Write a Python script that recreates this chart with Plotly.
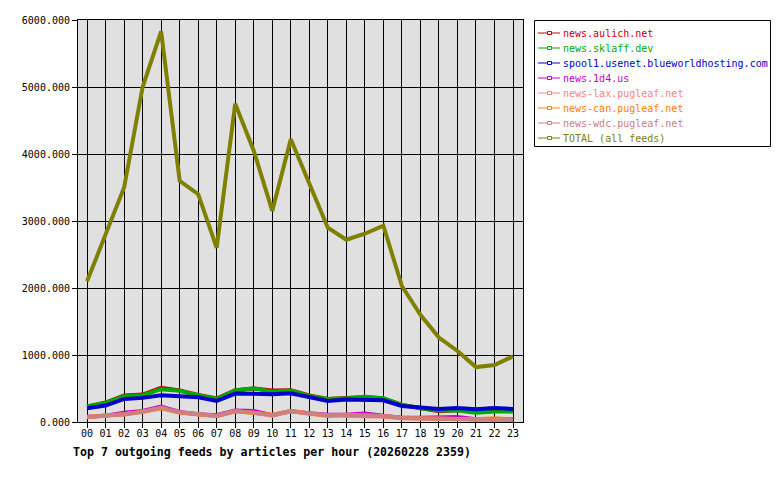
import plotly.graph_objects as go

hours = ["%02d" % h for h in range(24)]

feed_names = [
    "news.aulich.net",
    "news.sklaff.dev",
    "spool1.usenet.blueworldhosting.com",
    "news.1d4.us",
    "news-lax.pugleaf.net",
    "news-can.pugleaf.net",
    "news-wdc.pugleaf.net",
    "TOTAL (all feeds)",
]

aulich = [230, 290, 395, 410, 510, 470, 405, 350, 475, 500, 470, 475, 395, 345, 360, 370, 350, 255, 210, 160, 175, 180, 200, 170]
sklaff = [235, 285, 385, 400, 490, 465, 400, 345, 470, 505, 450, 470, 390, 345, 355, 375, 355, 255, 205, 170, 170, 140, 155, 155]
spool1 = [205, 245, 345, 360, 400, 385, 370, 315, 425, 420, 415, 430, 365, 315, 335, 335, 325, 240, 220, 195, 210, 190, 210, 195]
d4 = [80, 95, 140, 165, 230, 150, 115, 100, 170, 165, 100, 165, 130, 110, 110, 125, 95, 65, 65, 75, 75, 40, 35, 40]
lax = [75, 90, 115, 150, 210, 140, 110, 85, 160, 140, 95, 160, 125, 100, 95, 90, 80, 55, 50, 55, 45, 35, 30, 30]
can = [70, 100, 110, 150, 205, 140, 115, 90, 160, 135, 110, 165, 120, 90, 110, 100, 90, 60, 55, 50, 45, 40, 55, 40]
wdc = [75, 90, 115, 155, 215, 145, 110, 90, 165, 140, 100, 160, 125, 100, 100, 95, 90, 60, 55, 50, 45, 35, 35, 30]
total = [2100, 2800, 3500, 5000, 5830, 3600, 3400, 2600, 4750, 4050, 3150, 4220, 3550, 2900, 2720, 2810, 2930, 2030, 1600, 1260, 1060, 820, 850, 980]

series = [aulich, sklaff, spool1, d4, lax, can, wdc, total]
colors = ["#cc0000", "#00aa00", "#0000cc", "#cc00cc", "#ff8080", "#ff8000", "#cc8080", "#808000"]

y_ticks = [0, 1000, 2000, 3000, 4000, 5000, 6000]
title_text = "Top 7 outgoing feeds by articles per hour (20260228 2359)"

MONO = "DejaVu Sans Mono"

fig = go.Figure()
for name, vals, col in zip(feed_names, series, colors):
    fig.add_trace(go.Scatter(x=hours, y=vals, mode="lines", name=name,
                             line=dict(color=col, width=4), showlegend=False))

# plot area in pixels: x 78..523, y 20..422
L, R, T, B = 78, 523, 20, 422
W, H = R - L, B - T

def px(x):
    return (x - L) / W

def py(y):
    return (B - y) / H

shapes = []
annotations = []
# legend box
shapes.append(dict(type="rect", xref="paper", yref="paper",
                   x0=px(534.5), x1=px(770.5), y0=py(146.5), y1=py(20.5),
                   line=dict(color="black", width=1), fillcolor="white", layer="above"))
for i, (name, col) in enumerate(zip(feed_names, colors)):
    yc = 33 + 15 * i
    shapes.append(dict(type="line", xref="paper", yref="paper",
                       x0=px(538), x1=px(560), y0=py(yc), y1=py(yc),
                       line=dict(color=col, width=1), layer="above"))
    shapes.append(dict(type="rect", xref="paper", yref="paper",
                       x0=px(547.5), x1=px(551.5), y0=py(yc + 1.5), y1=py(yc - 1.5),
                       line=dict(color=col, width=1), fillcolor="white", layer="above"))
    annotations.append(dict(text=name, xref="paper", yref="paper",
                            x=px(561), y=py(yc), xanchor="left", yanchor="middle",
                            showarrow=False, font=dict(family=MONO, size=10, color=col)))

annotations.append(dict(text="<b>" + title_text + "</b>", xref="paper", yref="paper",
                        x=px(71), y=py(452), xanchor="left", yanchor="middle",
                        showarrow=False, font=dict(family=MONO, size=11.6, color="black")))

fig.update_layout(
    width=780, height=480,
    margin=dict(l=L, r=780 - R, t=T, b=480 - B, pad=0),
    paper_bgcolor="white", plot_bgcolor="#e0e0e0",
    showlegend=False,
    shapes=shapes, annotations=annotations,
    font=dict(family=MONO, size=10, color="black"),
)
fig.update_xaxes(
    type="category", range=[-0.49, 23.54],
    showgrid=True, gridcolor="black", gridwidth=1,
    showline=True, linecolor="black", linewidth=1, mirror=True,
    ticks="outside", ticklen=5, tickcolor="black",
    ticklabelstandoff=-3,
    tickfont=dict(family=MONO, size=10, color="black"),
    zeroline=False,
)
fig.update_yaxes(
    range=[0, 6000], tickvals=y_ticks, tickformat=".3f",
    showgrid=True, gridcolor="black", gridwidth=1,
    showline=True, linecolor="black", linewidth=1, mirror=True,
    ticks="outside", ticklen=5, tickcolor="black",
    tickfont=dict(family=MONO, size=10, color="black"),
    zeroline=False,
)

fig.write_html("out.html")
